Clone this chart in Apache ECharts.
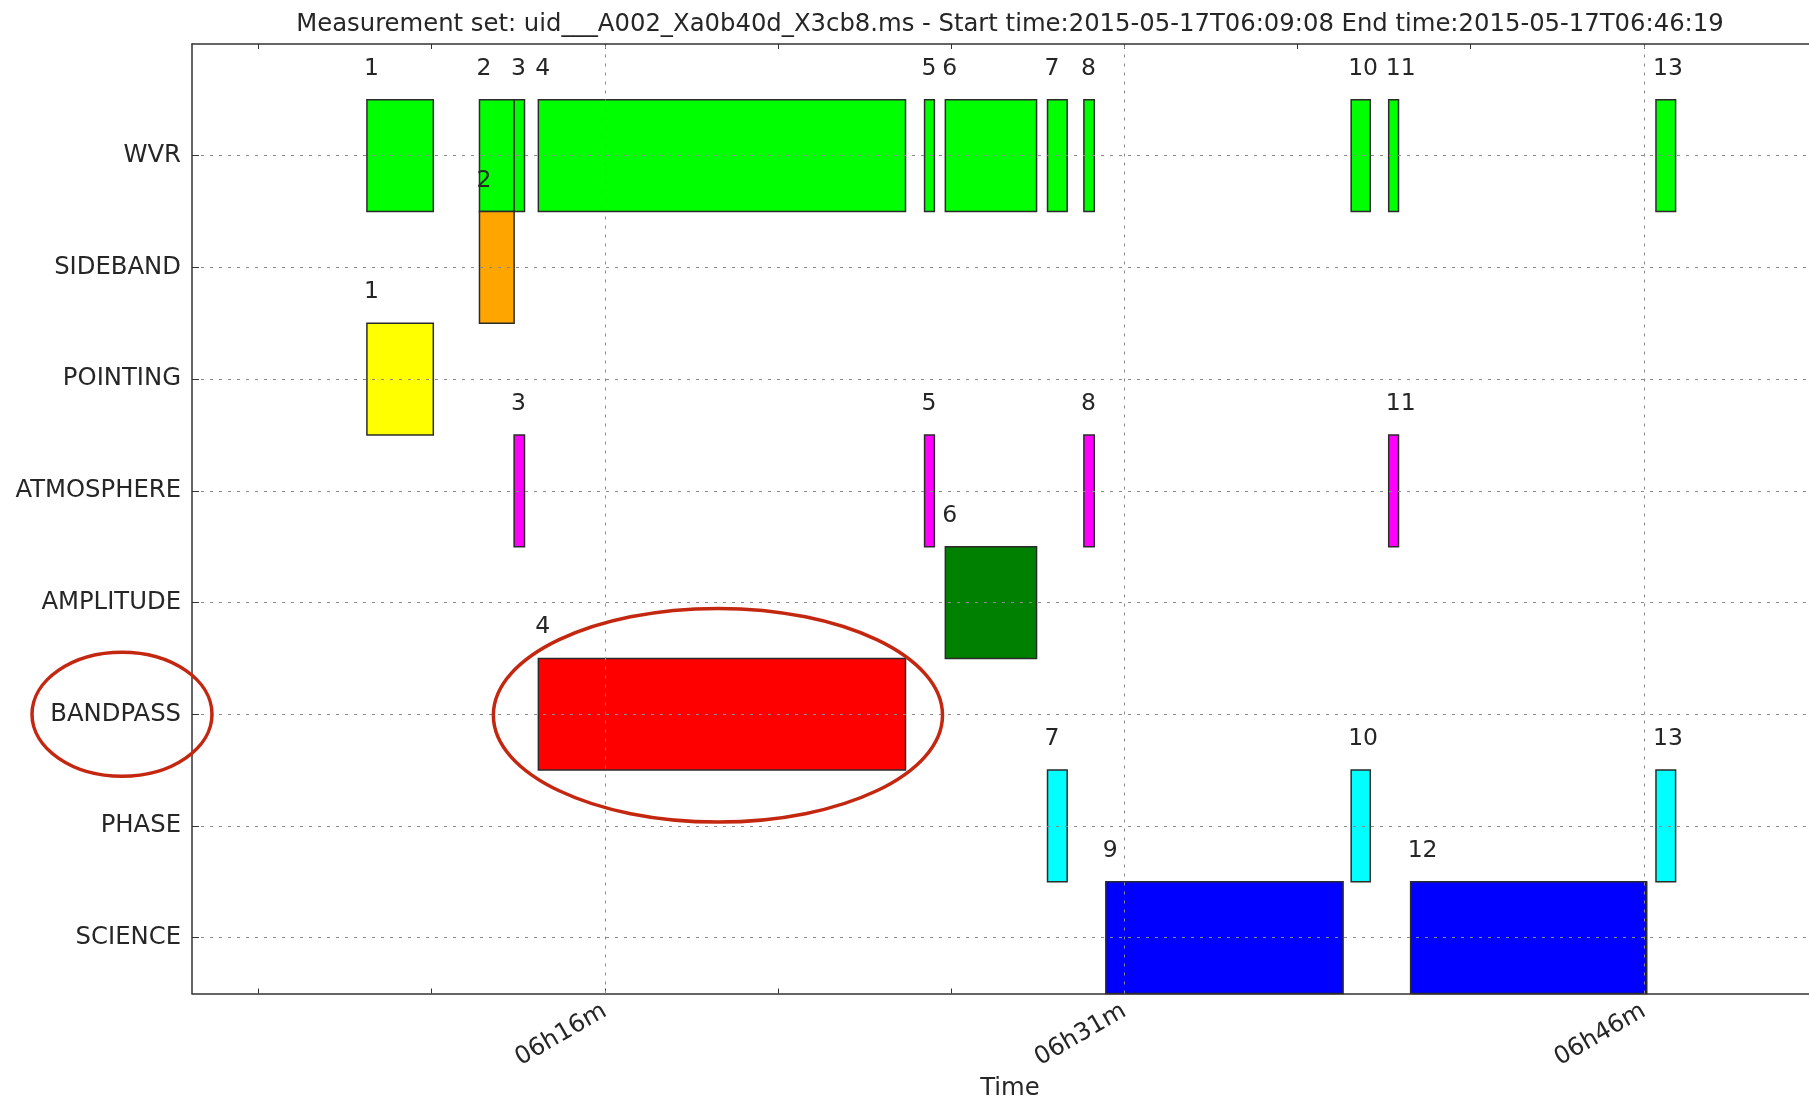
<!DOCTYPE html>
<html>
<head>
<meta charset="utf-8">
<script src="https://cdn.jsdelivr.net/npm/echarts@6/dist/echarts.min.js"></script>
<style>
  html, body { margin: 0; padding: 0; background: #ffffff; }
  #chart { width: 1809px; height: 1099px; }
</style>
</head>
<body>
<div id="chart"></div>
<script>
// Scan intents, bottom row first
const intents = ['SCIENCE', 'PHASE', 'BANDPASS', 'AMPLITUDE', 'ATMOSPHERE', 'POINTING', 'SIDEBAND', 'WVR'];
const intentColors = ['#0000ff', '#00ffff', '#ff0000', '#008000', '#ff00ff', '#ffff00', '#ffa500', '#00ff00'];

// Scans of the measurement set
const scanIds = [1, 2, 3, 4, 5, 6, 7, 8, 9, 10, 11, 12, 13];
const scanStart = ['06:09:08', '06:12:23', '06:13:23', '06:14:05', '06:25:14', '06:25:50', '06:28:47',
                   '06:29:50', '06:30:28', '06:37:33', '06:38:38', '06:39:16', '06:46:21'];
const scanEnd = ['06:11:03', '06:13:23', '06:13:41', '06:24:41', '06:25:31', '06:28:28', '06:29:21',
                 '06:30:08', '06:37:19', '06:38:06', '06:38:55', '06:46:05', '06:46:55'];
const scanIntents = [
  ['WVR', 'POINTING'], ['WVR', 'SIDEBAND'], ['WVR', 'ATMOSPHERE'], ['WVR', 'BANDPASS'],
  ['WVR', 'ATMOSPHERE'], ['WVR', 'AMPLITUDE'], ['WVR', 'PHASE'], ['WVR', 'ATMOSPHERE'],
  ['SCIENCE'], ['WVR', 'PHASE'], ['WVR', 'ATMOSPHERE'], ['SCIENCE'], ['WVR', 'PHASE']
];

// Time axis (minutes after 06:00)
const axisStart = '06:04:05';
const axisEnd = '06:51:19';
const tickMinutes = [6, 11, 16, 21, 26, 31, 36, 41, 46, 51];
const labelMinutes = [16, 31, 46];
const tickLabels = ['06h16m', '06h31m', '06h46m'];

const titleText = 'Measurement set: uid___A002_Xa0b40d_X3cb8.ms - Start time:2015-05-17T06:09:08 End time:2015-05-17T06:46:19';
const highlightScan = 4;
const highlightIntent = 'BANDPASS';

function toMinutes(hms) {
  const p = hms.split(':').map(Number);
  return (p[0] - 6) * 60 + p[1] + p[2] / 60;
}

const barData = [];
scanIds.forEach(function (id, i) {
  scanIntents[i].forEach(function (name) {
    barData.push([toMinutes(scanStart[i]), toMinutes(scanEnd[i]), intents.indexOf(name), id]);
  });
});

const FONT = '"DejaVu Sans", "Liberation Sans", sans-serif';
const TEXT = '#262626';
const AXIS = '#333333';
const GRID = '#8a8a8a';
const FS = 24.3;
const yTicks = intents.map(function (_, i) { return i; });

const chart = echarts.init(document.getElementById('chart'), null, { renderer: 'canvas' });

chart.setOption({
  animation: false,
  backgroundColor: '#ffffff',
  textStyle: { fontFamily: FONT },
  grid: { left: 192, top: 44, width: 1636, height: 949.5, containLabel: false, outerBoundsMode: 'none' },
  xAxis: [
    {
      type: 'value',
      position: 'bottom',
      min: toMinutes(axisStart),
      max: toMinutes(axisEnd),
      name: 'Time',
      nameLocation: 'middle',
      nameGap: 78,
      nameTextStyle: { fontFamily: FONT, fontSize: FS, color: TEXT },
      axisLine: { show: true, onZero: false, lineStyle: { color: AXIS, width: 1.5 } },
      axisTick: { show: true, inside: true, length: 5, customValues: tickMinutes, lineStyle: { color: AXIS, width: 1 } },
      axisLabel: {
        show: true,
        customValues: labelMinutes,
        rotate: 30,
        margin: 16,
        fontFamily: FONT,
        fontSize: FS,
        color: TEXT,
        formatter: function (v) { return tickLabels[labelMinutes.indexOf(Math.round(v))]; }
      },
      splitLine: { show: false }
    },
    {
      type: 'value',
      position: 'top',
      min: toMinutes(axisStart),
      max: toMinutes(axisEnd),
      name: titleText,
      nameLocation: 'middle',
      nameGap: 7,
      nameTextStyle: { fontFamily: FONT, fontSize: FS, color: TEXT },
      axisLine: { show: true, onZero: false, lineStyle: { color: AXIS, width: 1.5 } },
      axisTick: { show: true, inside: true, length: 5, customValues: tickMinutes, lineStyle: { color: AXIS, width: 1 } },
      axisLabel: { show: false },
      splitLine: { show: false }
    }
  ],
  yAxis: {
    type: 'value',
    min: -0.5,
    max: 8,
    z: 3,
    axisLine: { show: true, onZero: false, lineStyle: { color: AXIS, width: 1.5 } },
    axisTick: { show: true, inside: true, length: 7, customValues: yTicks, lineStyle: { color: AXIS, width: 1 } },
    axisLabel: {
      show: true,
      customValues: yTicks,
      margin: 11,
      fontFamily: FONT,
      fontSize: FS,
      color: TEXT,
      formatter: function (v) { return intents[Math.round(v)]; }
    },
    splitLine: { show: true, lineStyle: { color: GRID, width: 1, type: [3, 6] } }
  },
  series: [
    {
      type: 'custom',
      xAxisIndex: 0,
      yAxisIndex: 0,
      clip: false,
      data: barData,
      encode: { x: [0, 1], y: 2 },
      renderItem: function (params, api) {
        const t0 = api.value(0), t1 = api.value(1), row = api.value(2);
        const p0 = api.coord([t0, row + 0.5]);
        const p1 = api.coord([t1, row - 0.5]);
        return {
          type: 'group',
          children: [
            {
              type: 'rect',
              shape: { x: p0[0], y: p0[1], width: p1[0] - p0[0], height: p1[1] - p0[1] },
              style: { fill: intentColors[row], stroke: '#2b2b2b', lineWidth: 1.5 }
            },
            {
              type: 'text',
              z2: 10,
              x: p0[0] - 3,
              y: p0[1] - 19,
              style: {
                text: String(api.value(3)),
                fill: TEXT,
                font: '23.5px ' + FONT,
                align: 'left',
                verticalAlign: 'bottom'
              }
            }
          ]
        };
      },
      markLine: {
        silent: true,
        symbol: 'none',
        label: { show: false },
        z: 5,
        lineStyle: { color: GRID, width: 1, type: [3, 6] },
        data: labelMinutes.map(function (m) { return { xAxis: m }; })
      }
    }
  ]
});

// Emphasis ellipses around the highlighted intent label and its scan
(function () {
  const idx = scanIds.indexOf(highlightScan);
  const row = intents.indexOf(highlightIntent);
  const a = chart.convertToPixel({ xAxisIndex: 0, yAxisIndex: 0 }, [toMinutes(scanStart[idx]), row + 0.5]);
  const b = chart.convertToPixel({ xAxisIndex: 0, yAxisIndex: 0 }, [toMinutes(scanEnd[idx]), row - 0.5]);
  const cy = (a[1] + b[1]) / 2;
  const axisX = chart.convertToPixel({ xAxisIndex: 0 }, toMinutes(axisStart));
  const ring = { fill: 'none', stroke: '#c4270f', lineWidth: 3.5 };
  chart.setOption({
    graphic: [
      { type: 'ellipse', z: 100, silent: true,
        shape: { cx: (a[0] + b[0]) / 2 - 4, cy: cy + 1, rx: (b[0] - a[0]) / 2 + 41, ry: (b[1] - a[1]) / 2 + 51 },
        style: ring },
      { type: 'ellipse', z: 100, silent: true,
        shape: { cx: axisX - 70, cy: cy, rx: 90, ry: 62 },
        style: ring }
    ]
  });
})();
</script>
</body>
</html>
